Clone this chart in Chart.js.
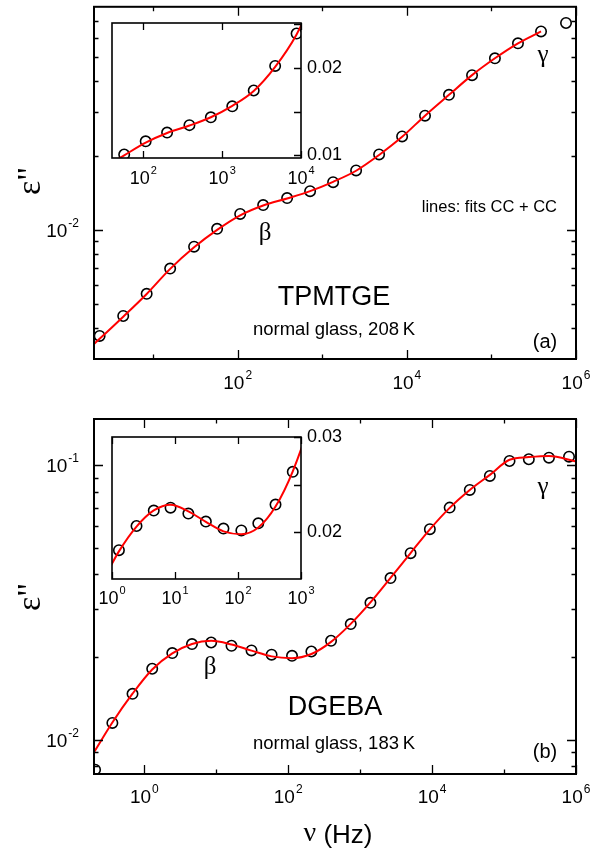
<!DOCTYPE html>
<html>
<head>
<meta charset="utf-8">
<script src="https://cdn.jsdelivr.net/npm/chart.js@4.4.0/dist/chart.umd.min.js"></script>
<style>
  html, body { margin: 0; padding: 0; background: #fff; }
  #wrap { position: relative; width: 605px; height: 852px; overflow: hidden; }
  canvas { position: absolute; }
</style>
</head>
<body>
<div id="wrap">
  <canvas id="mainA" width="605" height="400" style="left:0;top:0"></canvas>
  <canvas id="mainB" width="605" height="452" style="left:0;top:400px"></canvas>
  <canvas id="insetA" width="270" height="190" style="left:90px;top:10px"></canvas>
  <canvas id="insetB" width="270" height="190" style="left:90px;top:425px"></canvas>
</div>
<script>
// panel (a): TPMTGE, normal glass 208 K  (frequency in Hz, eps'')
const freqA = [2.33, 4.43, 8.39, 15.9, 30.5, 57.1, 107, 200, 384, 718, 1343, 2512, 4699, 8790,
               16400, 31500, 59000, 110000, 206000, 386000, 762000];
const epsA  = [0.00372, 0.00448, 0.00551, 0.00697, 0.00855, 0.0101, 0.0116, 0.0126, 0.01345, 0.01434,
               0.0156, 0.0174, 0.0202, 0.0239, 0.0290, 0.0352, 0.0423, 0.0495, 0.0569, 0.0636, 0.0688];
// fit curve CC + CC for (a)
const fitFreqA = [2, 2.33, 4.43, 8.39, 15.9, 30.5, 57.1, 107, 200, 384, 718, 1343, 2512, 4699, 8790,
                  16400, 31500, 59000, 110000, 206000, 386000];
const fitEpsA  = [0.00345, 0.00362, 0.00445, 0.0055, 0.00695, 0.0085, 0.0100, 0.01145, 0.01255, 0.0134,
                  0.01435, 0.01565, 0.01735, 0.0201, 0.0238, 0.0290, 0.0352, 0.0423, 0.0495, 0.0569, 0.0636];

// panel (b): DGEBA, normal glass 183 K
const freqB = [0.207, 0.36, 0.686, 1.288, 2.45, 4.6, 8.5, 16.3, 30.9, 58.8, 113, 210, 394, 740, 1390,
               2643, 5023, 9310, 17540, 33400, 63500, 119200, 221000, 421000, 800000];
const epsB  = [0.00778, 0.01151, 0.01469, 0.01812, 0.02066, 0.02228, 0.02258, 0.02197, 0.02113, 0.02039,
               0.0202, 0.02094, 0.02291, 0.02635, 0.03148, 0.03874, 0.04774, 0.05837, 0.06994, 0.0811,
               0.0912, 0.1034, 0.1049, 0.1063, 0.1072];
const fitFreqB = [0.2, 0.36, 0.686, 1.288, 2.45, 4.6, 8.5, 16.3, 30.9, 58.8, 113, 210, 394, 740, 1390,
                  2643, 5023, 9310, 17540, 33400, 63500, 119200, 221000, 421000, 1000000];
const fitEpsB  = [0.0090, 0.01155, 0.0147, 0.0180, 0.0206, 0.0223, 0.0229, 0.0222, 0.0211, 0.0201,
                  0.0198, 0.0205, 0.0227, 0.0264, 0.0316, 0.0388, 0.0478, 0.0583, 0.0698, 0.0811,
                  0.0920, 0.1045, 0.1068, 0.1078, 0.1030];

// tick values
const xMajorA = [100, 10000, 1000000];
const xMinorA = [10, 1000, 100000];
const yMajorA = [0.01];
const yMinorA = [0.004, 0.005, 0.006, 0.007, 0.008, 0.009, 0.02, 0.03, 0.04, 0.05, 0.06, 0.07];
const xMajorB = [1, 100, 10000, 1000000];
const xMinorB = [10, 1000, 100000];
const yMajorB = [0.01, 0.1];
const yMinorB = [0.008, 0.009, 0.02, 0.03, 0.04, 0.05, 0.06, 0.07, 0.08, 0.09];
const insetTicksXA = [100, 1000, 10000];
const insetTicksYA = [0.01, 0.015, 0.02, 0.025];
const insetLabelsYA = [0.01, 0.02];
const insetTicksXB = [1, 10, 100, 1000];
const insetTicksYB = [0.02, 0.025, 0.03];
const insetLabelsYB = [0.02, 0.03];

const SANS = '"Liberation Sans", Arial, sans-serif';
const SERIF = '"Liberation Serif", "Times New Roman", serif';

const pts = (xs, ys) => xs.map((x, i) => ({ x: x, y: ys[i] }));

// "10" with superscript exponent
function drawPow(ctx, x, y, exp, size, align) {
    const sup = Math.round(size * 0.63);
    ctx.font = size + 'px ' + SANS;
    const w1 = ctx.measureText('10').width;
    ctx.font = sup + 'px ' + SANS;
    const w2 = ctx.measureText(exp).width;
    const x0 = align === 'right' ? x - w1 - w2 - 1 : x - (w1 + w2 + 1) / 2;
    ctx.textAlign = 'left';
    ctx.textBaseline = 'middle';
    ctx.font = size + 'px ' + SANS;
    ctx.fillText('10', x0, y);
    ctx.font = sup + 'px ' + SANS;
    ctx.fillText(exp, x0 + w1 + 1, y - size * 0.42);
}

function framePlugin(cfg) {
    return {
        id: 'frame',
        beforeDraw(chart) {
            if (!cfg.fill) return;
            const a = chart.chartArea;
            chart.ctx.save();
            chart.ctx.fillStyle = '#fff';
            chart.ctx.fillRect(a.left, a.top, a.right - a.left, a.bottom - a.top);
            chart.ctx.restore();
        },
        afterDraw(chart) {
            const ctx = chart.ctx, a = chart.chartArea;
            const sx = chart.scales.x, sy = chart.scales.y;
            ctx.save();
            ctx.strokeStyle = '#000';
            ctx.fillStyle = '#000';
            // tick marks pointing inward
            ctx.lineWidth = cfg.tickWidth;
            ctx.beginPath();
            const xt = (list, len) => list.forEach(v => {
                const p = Math.round(sx.getPixelForValue(v)) + 0.5;
                if (cfg.xSides.includes('bottom')) { ctx.moveTo(p, a.bottom); ctx.lineTo(p, a.bottom - len); }
                if (cfg.xSides.includes('top')) { ctx.moveTo(p, a.top); ctx.lineTo(p, a.top + len); }
            });
            const yt = (list, len) => list.forEach(v => {
                const p = Math.round(sy.getPixelForValue(v)) + 0.5;
                if (cfg.ySides.includes('left')) { ctx.moveTo(a.left, p); ctx.lineTo(a.left + len, p); }
                if (cfg.ySides.includes('right')) { ctx.moveTo(a.right, p); ctx.lineTo(a.right - len, p); }
            });
            xt(cfg.xMajor, cfg.majorLen);
            xt(cfg.xMinor || [], cfg.minorLen);
            yt(cfg.yMajor, cfg.majorLen);
            yt(cfg.yMinor || [], cfg.minorLen);
            ctx.stroke();
            // box
            ctx.lineWidth = cfg.boxWidth;
            ctx.strokeRect(a.left, a.top, a.right - a.left, a.bottom - a.top);

            // x tick labels (powers of ten)
            cfg.xLabels.forEach(v => {
                drawPow(ctx, sx.getPixelForValue(v), a.bottom + cfg.xLabelGap,
                        String(Math.round(Math.log10(v))), cfg.labelSize, 'center');
            });
            // y tick labels
            cfg.yLabels.forEach(v => {
                const p = sy.getPixelForValue(v);
                if (cfg.yLinear) {
                    ctx.font = cfg.labelSize + 'px ' + SANS;
                    ctx.textAlign = 'left';
                    ctx.textBaseline = 'middle';
                    ctx.fillText(v.toFixed(2), a.right + 6, p);
                } else {
                    drawPow(ctx, a.left - 15, p + 2, String(Math.round(Math.log10(v))), cfg.labelSize, 'right');
                }
            });
            // annotations
            (cfg.texts || []).forEach(t => {
                ctx.font = t.font;
                ctx.textAlign = t.align || 'center';
                ctx.textBaseline = 'middle';
                ctx.fillText(t.text, t.x, t.y);
            });
            // y title  eps''
            if (cfg.yTitle) {
                ctx.translate(cfg.yTitle.x, cfg.yTitle.y);
                ctx.rotate(-Math.PI / 2);
                ctx.font = '34px ' + SERIF;
                ctx.textAlign = 'center';
                ctx.textBaseline = 'middle';
                ctx.fillText('\u03b5"', 0, 0);
                ctx.setTransform(1, 0, 0, 1, 0, 0);
            }
            if (cfg.xTitle) {
                ctx.textBaseline = 'middle';
                ctx.textAlign = 'left';
                ctx.font = '28px ' + SERIF;
                const w1 = ctx.measureText('\u03bd').width;
                ctx.font = '26px ' + SANS;
                const w2 = ctx.measureText(' (Hz)').width;
                const x0 = cfg.xTitle.x - (w1 + w2) / 2;
                ctx.font = '28px ' + SERIF;
                ctx.fillText('\u03bd', x0, cfg.xTitle.y - 2);
                ctx.font = '26px ' + SANS;
                ctx.fillText(' (Hz)', x0 + w1, cfg.xTitle.y);
            }
            ctx.restore();
        }
    };
}

function makeChart(id, o) {
    return new Chart(document.getElementById(id), {
        type: 'scatter',
        data: {
            datasets: [
                {
                    data: pts(o.fitX, o.fitY),
                    showLine: true,
                    borderColor: '#ff0000',
                    borderWidth: 2,
                    pointRadius: 0,
                    cubicInterpolationMode: 'monotone',
                    clip: 0
                },
                {
                    data: pts(o.dataX, o.dataY),
                    showLine: false,
                    pointRadius: o.radius,
                    pointBorderWidth: 1.6,
                    pointBorderColor: '#000',
                    pointBackgroundColor: 'rgba(0,0,0,0)',
                    clip: 0
                }
            ]
        },
        options: {
            responsive: false,
            animation: false,
            events: [],
            layout: { padding: o.padding },
            plugins: { legend: { display: false }, tooltip: { enabled: false } },
            scales: {
                x: { type: 'logarithmic', min: o.xMin, max: o.xMax, display: false, bounds: 'data' },
                y: { type: o.yType, min: o.yMin, max: o.yMax, display: false, bounds: 'data' }
            }
        },
        plugins: [framePlugin(o.frame)]
    });
}

// top main panel
makeChart('mainA', {
    fitX: fitFreqA, fitY: fitEpsA, dataX: freqA, dataY: epsA, radius: 5.2,
    padding: { left: 94, right: 29, top: 4, bottom: 41 },
    xMin: 2, xMax: 1e6, yType: 'logarithmic', yMin: 0.003, yMax: 0.08,
    frame: {
        xSides: ['top', 'bottom'], ySides: ['left', 'right'],
        xMajor: xMajorA, xMinor: xMinorA, yMajor: yMajorA, yMinor: yMinorA,
        majorLen: 9, minorLen: 4.5, tickWidth: 1.3, boxWidth: 2,
        xLabels: [100, 10000, 1000000], yLabels: [0.01], labelSize: 19, xLabelGap: 25,
        yTitle: { x: 31, y: 181 },
        texts: [
            { text: '\u03b3', x: 543, y: 55, font: '25px ' + SERIF },
            { text: '\u03b2', x: 265, y: 233, font: '25px ' + SERIF },
            { text: 'lines: fits CC + CC', x: 557, y: 207, font: '16.5px ' + SANS, align: 'right' },
            { text: 'TPMTGE', x: 334, y: 298, font: '27px ' + SANS },
            { text: 'normal glass, 208\u2009K', x: 334, y: 330, font: '18.5px ' + SANS },
            { text: '(a)', x: 545, y: 342, font: '20px ' + SANS }
        ]
    }
});

// bottom main panel
makeChart('mainB', {
    fitX: fitFreqB, fitY: fitEpsB, dataX: freqB, dataY: epsB, radius: 5.2,
    padding: { left: 94, right: 29, top: 19, bottom: 78 },
    xMin: 0.2, xMax: 1e6, yType: 'logarithmic', yMin: 0.0075, yMax: 0.147,
    frame: {
        xSides: ['top', 'bottom'], ySides: ['left', 'right'],
        xMajor: xMajorB, xMinor: xMinorB, yMajor: yMajorB, yMinor: yMinorB,
        majorLen: 9, minorLen: 4.5, tickWidth: 1.3, boxWidth: 2,
        xLabels: [1, 100, 10000, 1000000], yLabels: [0.01, 0.1], labelSize: 19, xLabelGap: 24,
        yTitle: { x: 31, y: 197 },
        xTitle: { x: 338, y: 436 },
        texts: [
            { text: '\u03b3', x: 543, y: 87, font: '25px ' + SERIF },
            { text: '\u03b2', x: 210, y: 267, font: '25px ' + SERIF },
            { text: 'DGEBA', x: 335, y: 308, font: '27px ' + SANS },
            { text: 'normal glass, 183\u2009K', x: 334, y: 344, font: '18.5px ' + SANS },
            { text: '(b)', x: 545, y: 352, font: '20px ' + SANS }
        ]
    }
});

// inset of (a): linear eps''
makeChart('insetA', {
    fitX: fitFreqA, fitY: fitEpsA, dataX: freqA, dataY: epsA, radius: 5.2,
    padding: { left: 22, right: 59, top: 13, bottom: 42 },
    xMin: 40, xMax: 1e4, yType: 'linear', yMin: 0.0097, yMax: 0.0251,
    frame: {
        fill: true, yLinear: true,
        xSides: ['top', 'bottom'], ySides: ['right'],
        xMajor: insetTicksXA, yMajor: insetTicksYA,
        majorLen: 7, minorLen: 4, tickWidth: 1.3, boxWidth: 1.6,
        xLabels: insetTicksXA, yLabels: insetLabelsYA, labelSize: 18, xLabelGap: 21
    }
});

// inset of (b)
makeChart('insetB', {
    fitX: fitFreqB, fitY: fitEpsB, dataX: freqB, dataY: epsB, radius: 5.2,
    padding: { left: 22, right: 59, top: 12, bottom: 36 },
    xMin: 1, xMax: 1000, yType: 'linear', yMin: 0.0151, yMax: 0.030,
    frame: {
        fill: true, yLinear: true,
        xSides: ['top', 'bottom'], ySides: ['right'],
        xMajor: insetTicksXB, yMajor: insetTicksYB,
        majorLen: 7, minorLen: 4, tickWidth: 1.3, boxWidth: 1.6,
        xLabels: insetTicksXB, yLabels: insetLabelsYB, labelSize: 18, xLabelGap: 20
    }
});
</script>
</body>
</html>
